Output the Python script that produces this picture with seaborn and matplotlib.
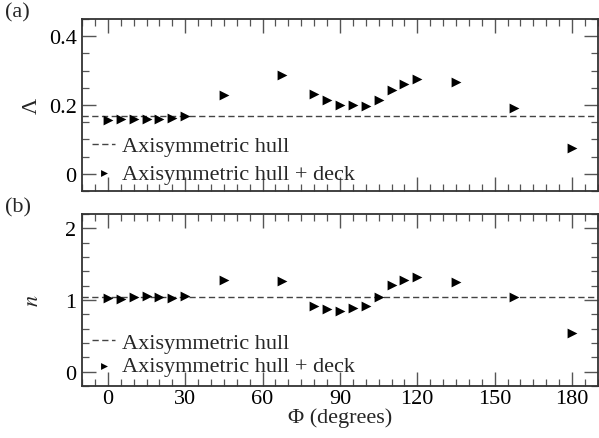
import matplotlib
matplotlib.use("Agg")
import matplotlib.pyplot as plt
from matplotlib.ticker import MultipleLocator
import seaborn as sns
import pandas as pd

# Roll angle of the deck (degrees)
phi = [0, 5, 10, 15, 20, 25, 30, 45, 67.5, 80, 85, 90, 95, 100, 105, 110,
       115, 120, 135, 157.5, 180]
# Panel (a): Lambda for the hull with deck
lam_deck = [0.155, 0.158, 0.158, 0.160, 0.160, 0.161, 0.167, 0.228, 0.286,
            0.233, 0.216, 0.201, 0.199, 0.197, 0.214, 0.243, 0.261, 0.275,
            0.268, 0.192, 0.076]
# Panel (b): exponent n for the hull with deck
n_deck = [1.03, 1.01, 1.04, 1.06, 1.04, 1.03, 1.05, 1.28, 1.27, 0.91, 0.87,
          0.84, 0.89, 0.92, 1.04, 1.21, 1.28, 1.32, 1.25, 1.04, 0.54]
# Reference values for the bare axisymmetric hull
lam_axi = 0.168
n_axi = 1.04

df = pd.DataFrame({"phi": phi, "lam": lam_deck, "n": n_deck})

sns.set_style("ticks")
plt.rcParams["font.family"] = ["Liberation Serif", "DejaVu Serif"]
plt.rcParams["mathtext.fontset"] = "stix"

fig = plt.figure(figsize=(5.99, 4.39), dpi=100)
ax1 = fig.add_axes([0.137, 0.5626, 0.861, 0.3918])
ax2 = fig.add_axes([0.137, 0.1185, 0.861, 0.3918])

spine_col = "#333333"
fs = 16

def style(ax, ylim, ymaj, ymin):
    ax.set_xlim(-10, 190)
    ax.set_ylim(*ylim)
    ax.xaxis.set_major_locator(MultipleLocator(30))
    ax.xaxis.set_minor_locator(MultipleLocator(5))
    ax.yaxis.set_major_locator(MultipleLocator(ymaj))
    ax.yaxis.set_minor_locator(MultipleLocator(ymin))
    ax.tick_params(which="both", direction="in", top=True, right=True,
                   color="#555555", labelsize=fs, labelcolor="black")
    ax.tick_params(which="major", length=10, width=1.0, pad=4)
    ax.tick_params(which="minor", length=5, width=0.9)
    ax.tick_params(axis="x", which="major", pad=2)
    for s in ax.spines.values():
        s.set_color(spine_col)
        s.set_linewidth(1.3)

for ax, col, ref, ylim, ymaj, ymin, lsp, anchor in [
        (ax1, "lam", lam_axi, (-0.05, 0.45), 0.2, 0.05, 0.32, -0.05),
        (ax2, "n", n_axi, (-0.2, 2.2), 1, 0.2, 0.12, -0.035)]:
    ax.axhline(ref, color="#444444", linestyle=(0, (4.5, 2.5)), linewidth=1.0,
               label="Axisymmetric hull", zorder=1)
    sns.scatterplot(data=df, x="phi", y=col, ax=ax, marker=">", s=50,
                    color="black", edgecolor="black", linewidth=0,
                    label="Axisymmetric hull + deck", zorder=3)
    style(ax, ylim, ymaj, ymin)
    ax.set_xlabel("")
    ax.legend(loc="lower left", bbox_to_anchor=(-0.01, anchor), frameon=False,
              fontsize=fs, handlelength=1.0, handletextpad=0.35,
              labelspacing=lsp, markerscale=0.7, borderaxespad=0.3)

ax1.set_yticks([0, 0.2, 0.4])
ax1.set_yticklabels(["0", "0.2", "0.4"])
ax1.set_xticklabels([])
ax1.set_ylabel("Λ", fontsize=fs, labelpad=5)
ax2.set_ylabel("$n$", fontsize=fs, labelpad=16)
ax2.set_xlabel("Φ (degrees)", fontsize=fs, labelpad=0)

fig.text(0.008, 0.993, "(a)", fontsize=fs, va="top", ha="left")
fig.text(0.008, 0.548, "(b)", fontsize=fs, va="top", ha="left")

fig.savefig("out.png", dpi=100)
